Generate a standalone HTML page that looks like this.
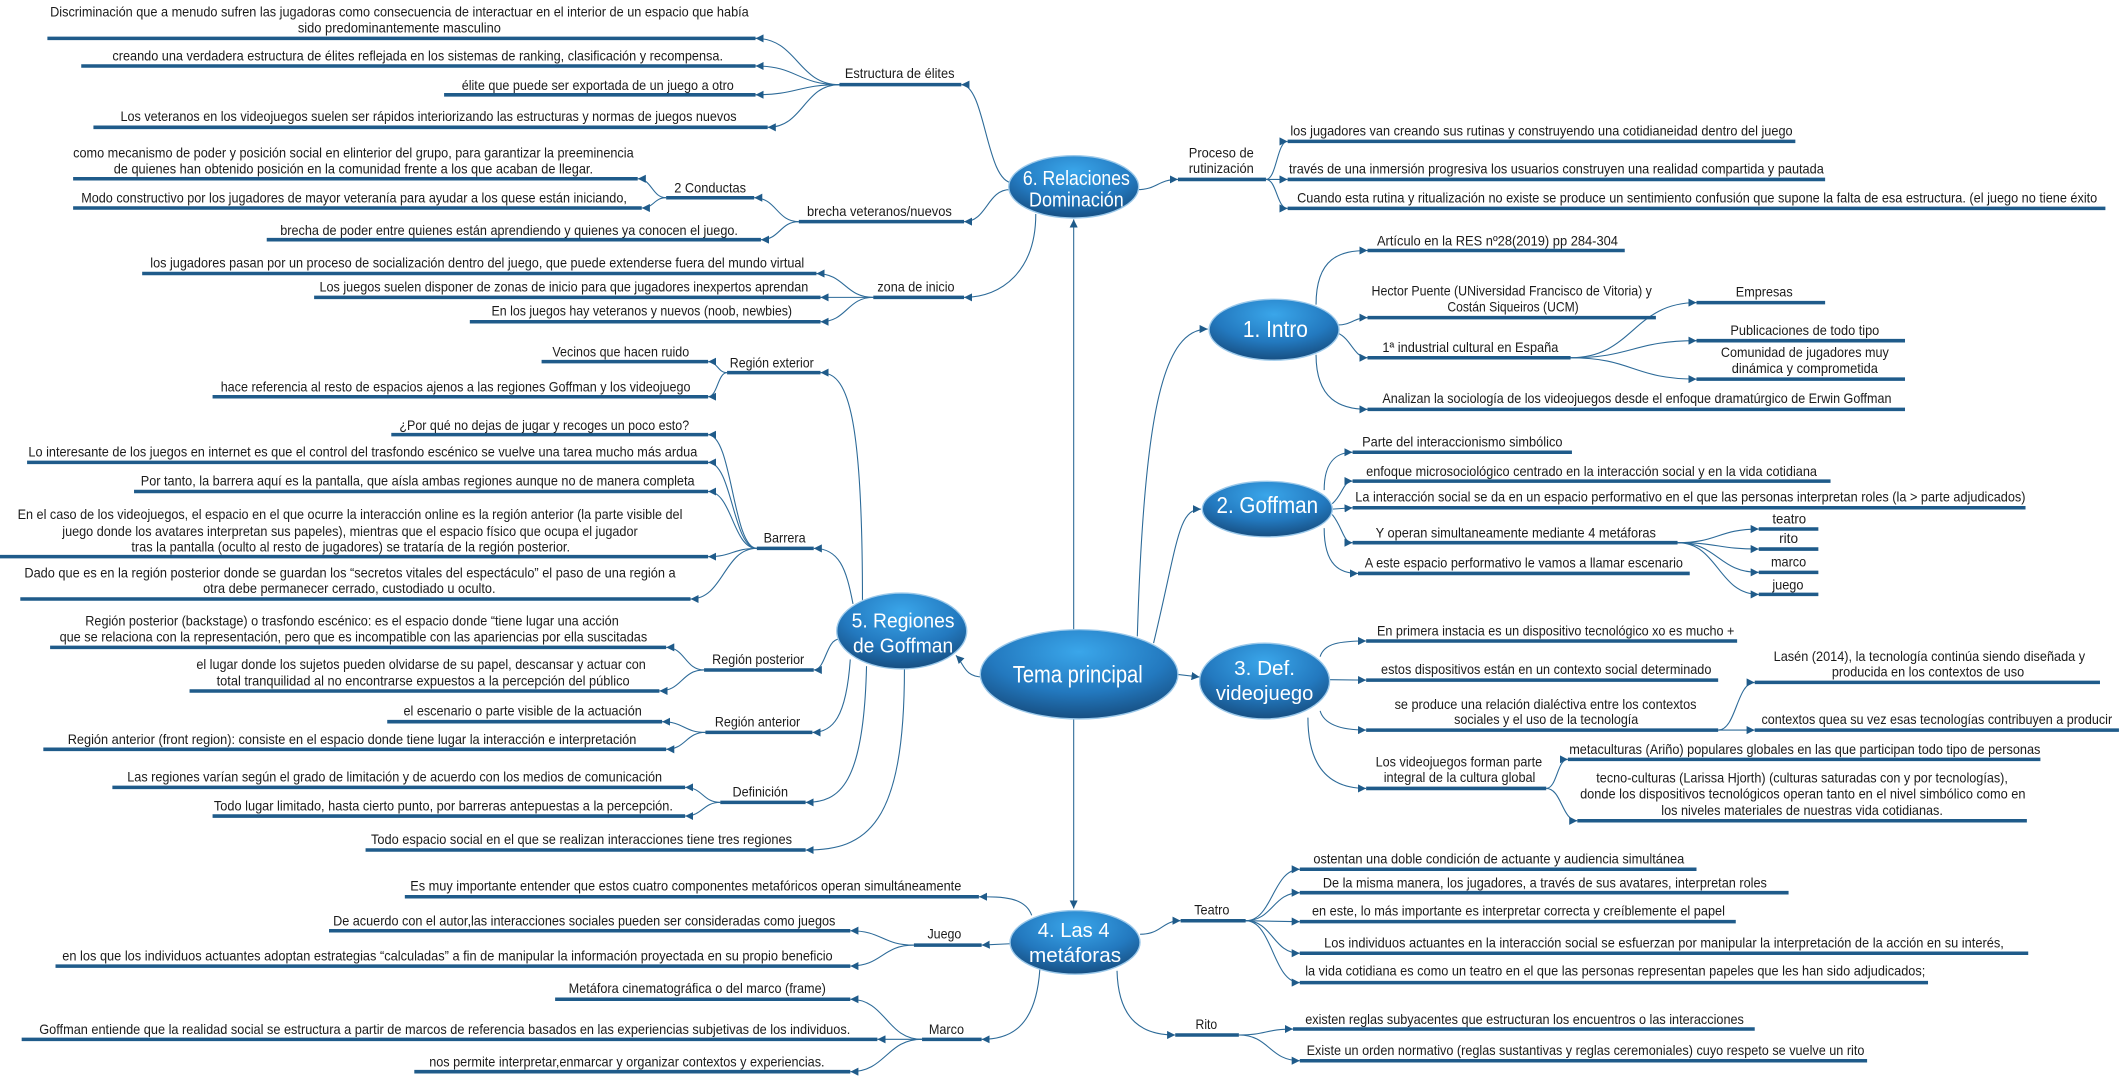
<!DOCTYPE html>
<html><head><meta charset="utf-8"><style>
html,body{margin:0;padding:0;background:#fff;}
svg{display:block;}
text{font-family:"Liberation Sans Narrow","Liberation Sans",sans-serif;font-size:10px;fill:#1b1b1b;}
.n{fill:#fff;font-size:15px;}
.b{stroke:#1f5b8a;stroke-width:2.6;fill:none;}
.c{stroke:#2c6a98;stroke-width:0.8;fill:none;marker-end:url(#ar);}
</style></head><body>
<svg width="2123" height="1077" viewBox="0 0 1568 795.4" xmlns="http://www.w3.org/2000/svg">
<defs>
<marker id="ar" markerUnits="userSpaceOnUse" markerWidth="6" markerHeight="6" viewBox="0 0 6 6" refX="6" refY="3" orient="auto"><path d="M0,0L6,3L0,6z" fill="#1f5b8a"/></marker>
<radialGradient id="g" cx="50%" cy="25%" r="75%"><stop offset="0" stop-color="#3aa6ea"/><stop offset="0.6" stop-color="#2379bf"/><stop offset="1" stop-color="#174f82"/></radialGradient>
</defs>

<path class="c" d="M793 467L793 162"/>
<path class="c" d="M793 528L793 671"/>
<path class="c" d="M840 470C845 300 860 243 892 243"/>
<path class="c" d="M852 475C870 400 870 376 887 376"/>
<path class="c" d="M869 498L886 500"/>
<path class="c" d="M726 500C712 500 712 490 706 484"/>

<path class="c" d="M748 135C728 135 728 62.5 710 62.5"/>
<path class="c" d="M746 140C729 140 729 163.7 712 163.7"/>
<path class="c" d="M765 158C765 200 740 219.6 712 219.6"/>
<path class="c" d="M840 140C855 140 855 132.5 870 132.5"/>
<path class="c" d="M935 132.5C943 132.5 943 104.4 951 104.4"/>
<path class="c" d="M935 132.5L951 132.5"/>
<path class="c" d="M935 132.5C943 132.5 943 153.9 951 153.9"/>
<path class="c" d="M620 62.5C589 62.5 589 28.3 558 28.3"/>
<path class="c" d="M620 62.5C589 62.5 589 48.7 558 48.7"/>
<path class="c" d="M620 62.5C589 62.5 589 70 558 70"/>
<path class="c" d="M620 62.5C593.5 62.5 593.5 94 567 94"/>
<path class="c" d="M590 163.7C573.5 163.7 573.5 146 557 146"/>
<path class="c" d="M590 163.7C576 163.7 576 177 562 177"/>
<path class="c" d="M492 146C481.5 146 481.5 132 471 132"/>
<path class="c" d="M492 146C483 146 483 153.6 474 153.6"/>
<path class="c" d="M645 219.6C624 219.6 624 202 603 202"/>
<path class="c" d="M645 219.6L606 219.6"/>
<path class="c" d="M645 219.6C625.5 219.6 625.5 237.6 606 237.6"/>

<path class="c" d="M637 443C637 300 625 275.2 606 275.2"/>
<path class="c" d="M630 446C625 420 620 405 601 405"/>
<path class="c" d="M620 472C610 472 610 494.8 601 494.8"/>
<path class="c" d="M628 487C625 530 615 540.9 600 540.9"/>
<path class="c" d="M640 492C638 580 620 592.6 595 592.6"/>
<path class="c" d="M668 494C668 610 640 627.8 595 627.8"/>
<path class="c" d="M537 275.2C530 275.2 530 267.1 523 267.1"/>
<path class="c" d="M537 275.2C530 275.2 530 293 523 293"/>
<path class="c" d="M559 405C541 405 541 321 523 321"/>
<path class="c" d="M559 405C541 405 541 341.5 523 341.5"/>
<path class="c" d="M559 405C541 405 541 363 523 363"/>
<path class="c" d="M559 405C541 405 541 411.1 523 411.1"/>
<path class="c" d="M559 405C534.5 405 534.5 442.4 510 442.4"/>
<path class="c" d="M520 494.8C506 494.8 506 478.1 492 478.1"/>
<path class="c" d="M520 494.8C503.5 494.8 503.5 510.3 487 510.3"/>
<path class="c" d="M521 540.9C505 540.9 505 533 489 533"/>
<path class="c" d="M521 540.9C506.5 540.9 506.5 553.4 492 553.4"/>
<path class="c" d="M532 592.6C519 592.6 519 581.5 506 581.5"/>
<path class="c" d="M532 592.6C519 592.6 519 602.7 506 602.7"/>

<path class="c" d="M762 676C757 662.3 740 662.3 723 662.3"/>
<path class="c" d="M746 697L725 698"/>
<path class="c" d="M768 716C765 760 745 767.6 725 767.6"/>
<path class="c" d="M842 690C858 690 858 680 872 680"/>
<path class="c" d="M825 717C826 755 845 764.4 868 764.4"/>
<path class="c" d="M675 698C651.5 698 651.5 687.4 628 687.4"/>
<path class="c" d="M675 698C651.5 698 651.5 713.5 628 713.5"/>
<path class="c" d="M681 767.6C654.5 767.6 654.5 738 628 738"/>
<path class="c" d="M681 767.6L648 767.6"/>
<path class="c" d="M681 767.6C654.5 767.6 654.5 791.5 628 791.5"/>
<path class="c" d="M920 680C940 680 940 642 960 642"/>
<path class="c" d="M920 680C940 680 940 659.3 960 659.3"/>
<path class="c" d="M920 680L960 680.7"/>
<path class="c" d="M920 680C940 680 940 704 960 704"/>
<path class="c" d="M920 680C940 680 940 725.7 960 725.7"/>
<path class="c" d="M915 764.4C935 764.4 935 760 955 760"/>
<path class="c" d="M915 764.4C937.5 764.4 937.5 783.4 960 783.4"/>

<path class="c" d="M972 225C972 190 990 185 1010 185"/>
<path class="c" d="M988 240C998 240 1000 234.6 1010 234.6"/>
<path class="c" d="M988 246C998 250 1000 264.2 1010 264.2"/>
<path class="c" d="M972 262C972 295 990 302.3 1010 302.3"/>
<path class="c" d="M1160 264.2C1206 264.2 1206 223.5 1253 223.5"/>
<path class="c" d="M1160 264.2C1206 264.2 1206 251.6 1253 251.6"/>
<path class="c" d="M1160 264.2C1206 264.2 1206 280 1253 280"/>

<path class="c" d="M978 362C978 338 990 334 999 334"/>
<path class="c" d="M984 372C992 365 992 355.3 999 355.3"/>
<path class="c" d="M984 376L999 375"/>
<path class="c" d="M984 380C992 390 992 400.8 999 400.8"/>
<path class="c" d="M978 390C978 418 990 423.5 1003 423.5"/>
<path class="c" d="M1239 400.8C1269 400.8 1269 390.7 1299 390.7"/>
<path class="c" d="M1239 400.8C1269 400.8 1269 405.5 1299 405.5"/>
<path class="c" d="M1239 400.8C1269 400.8 1269 422.7 1299 422.7"/>
<path class="c" d="M1239 400.8C1269 400.8 1269 439 1299 439"/>

<path class="c" d="M975 485C978 475 990 473.4 1009 473.4"/>
<path class="c" d="M982 502L1009 502.3"/>
<path class="c" d="M975 525C978 535 990 539.2 1009 539.2"/>
<path class="c" d="M966 530C966 575 990 582.3 1009 582.3"/>
<path class="c" d="M1269 539.2C1282.5 539.2 1282.5 504 1296 504"/>
<path class="c" d="M1269 539.2L1296 539.2"/>
<path class="c" d="M1142 582.3C1150 582.3 1150 560.8 1158 560.8"/>
<path class="c" d="M1142 582.3C1153.5 582.3 1153.5 606.2 1165 606.2"/>

<path class="b" d="M35 28.3H558M60 48.7H558M328 70H558M69 94H567M620 62.5H710M54 132H471M54 153.6H474M492 146H557M590 163.7H712M197 177H562M105 202H603M232 219.6H606M645 219.6H712M347 237.6H606M400 267.1H523M537 275.2H606M157 293H523M289 321H523M20 341.5H523M99 363H523M0 411.1H523M559 405H601M15 442.4H510M37 478.1H492M520 494.8H601M140 510.3H487M286 533H489M521 540.9H600M32 553.4H492M83 581.5H506M532 592.6H595M157 602.7H506M270 627.8H595M299 662.3H723M243 687.4H628M675 698H725M41 713.5H628M410 738H628M16 767.6H648M681 767.6H725M306 791.5H628"/>
<path class="b" d="M870 132.5H935M951 104.4H1326M951 132.5H1348M951 153.9H1555M1010 185H1200M1010 234.6H1223M1253 223.5H1348M1010 264.2H1160M1253 251.6H1407M1253 280H1407M1010 302.3H1407M999 334H1161M999 355.3H1352M999 375H1496M999 400.8H1239M1299 390.7H1343M1299 405.5H1343M1299 422.7H1343M1299 439H1343M1003 423.5H1248M1009 473.4H1283M1009 502.3H1269M1296 504H1551M1009 539.2H1269M1296 539.2H1565M1009 582.3H1142M1158 560.8H1507M1165 606.2H1497M960 642H1253M960 659.3H1321M960 680.7H1282M872 680H920M960 704H1498M960 725.7H1424M868 764.4H915M955 760H1296M960 783.4H1379"/>

<g stroke="#9cc9ea" stroke-width="1">
<ellipse cx="797" cy="498" rx="73" ry="33" fill="url(#g)"/>
<ellipse cx="793" cy="138" rx="48" ry="23" fill="url(#g)"/>
<ellipse cx="941" cy="243.5" rx="48" ry="22.5" fill="url(#g)"/>
<ellipse cx="936" cy="376" rx="48" ry="20.5" fill="url(#g)"/>
<ellipse cx="934" cy="503" rx="48" ry="28" fill="url(#g)"/>
<ellipse cx="794" cy="696" rx="48" ry="23.5" fill="url(#g)"/>
<ellipse cx="666" cy="466" rx="48" ry="28" fill="url(#g)"/>
</g>
<text class="n" x="796" y="504" text-anchor="middle" textLength="96" lengthAdjust="spacingAndGlyphs" style="font-size:18px">Tema principal</text>
<text class="n" x="795" y="136.5" text-anchor="middle" textLength="79" lengthAdjust="spacingAndGlyphs">6. Relaciones</text>
<text class="n" x="795" y="152.5" text-anchor="middle" textLength="70" lengthAdjust="spacingAndGlyphs">Dominación</text>
<text class="n" x="942" y="249" text-anchor="middle" textLength="48" lengthAdjust="spacingAndGlyphs" style="font-size:17px">1. Intro</text>
<text class="n" x="936" y="379" text-anchor="middle" textLength="75" lengthAdjust="spacingAndGlyphs" style="font-size:17px">2. Goffman</text>
<text class="n" x="934" y="498.5" text-anchor="middle" textLength="45" lengthAdjust="spacingAndGlyphs">3. Def.</text>
<text class="n" x="934" y="517" text-anchor="middle" textLength="72" lengthAdjust="spacingAndGlyphs">videojuego</text>
<text class="n" x="793" y="692" text-anchor="middle" textLength="53" lengthAdjust="spacingAndGlyphs">4. Las 4</text>
<text class="n" x="794" y="710.5" text-anchor="middle" textLength="68" lengthAdjust="spacingAndGlyphs">metáforas</text>
<text class="n" x="667" y="463.5" text-anchor="middle" textLength="76" lengthAdjust="spacingAndGlyphs">5. Regiones</text>
<text class="n" x="667" y="482" text-anchor="middle" textLength="74" lengthAdjust="spacingAndGlyphs">de Goffman</text>

<g>
<text x="37" y="12.1" textLength="516" lengthAdjust="spacingAndGlyphs">Discriminación que a menudo sufren las jugadoras como consecuencia de interactuar en el interior de un espacio que había</text>
<text x="220" y="23.9" textLength="150" lengthAdjust="spacingAndGlyphs">sido predominantemente masculino</text>
<text x="83" y="44.5" textLength="451" lengthAdjust="spacingAndGlyphs">creando una verdadera estructura de élites reflejada en los sistemas de ranking, clasificación y recompensa.</text>
<text x="341" y="66.3" textLength="201" lengthAdjust="spacingAndGlyphs">élite que puede ser exportada de un juego a otro</text>
<text x="89" y="89.5" textLength="455" lengthAdjust="spacingAndGlyphs">Los veteranos en los videojuegos suelen ser rápidos interiorizando las estructuras y normas de juegos nuevos</text>
<text x="624" y="57.5" textLength="81" lengthAdjust="spacingAndGlyphs">Estructura de élites</text>
<text x="54" y="116.3" textLength="414" lengthAdjust="spacingAndGlyphs">como mecanismo de poder y posición social en elinterior del grupo, para garantizar la preeminencia</text>
<text x="84" y="128.3" textLength="354" lengthAdjust="spacingAndGlyphs">de quienes han obtenido posición en la comunidad frente a los que acaban de llegar.</text>
<text x="60" y="149.5" textLength="403" lengthAdjust="spacingAndGlyphs">Modo constructivo por los jugadores de mayor veteranía para ayudar a los quese están iniciando,</text>
<text x="498" y="142.1" textLength="53" lengthAdjust="spacingAndGlyphs">2 Conductas</text>
<text x="596" y="159.5" textLength="107" lengthAdjust="spacingAndGlyphs">brecha veteranos/nuevos</text>
<text x="207" y="173.5" textLength="338" lengthAdjust="spacingAndGlyphs">brecha de poder entre quienes están aprendiendo y quienes ya conocen el juego.</text>
<text x="111" y="197.5" textLength="483" lengthAdjust="spacingAndGlyphs">los jugadores pasan por un proceso de socialización dentro del juego, que puede extenderse fuera del mundo virtual</text>
<text x="236" y="215.2" textLength="361" lengthAdjust="spacingAndGlyphs">Los juegos suelen disponer de zonas de inicio para que jugadores inexpertos aprendan</text>
<text x="648" y="215.2" textLength="57" lengthAdjust="spacingAndGlyphs">zona de inicio</text>
<text x="363" y="233" textLength="222" lengthAdjust="spacingAndGlyphs">En los juegos hay veteranos y nuevos (noob, newbies)</text>
<text x="408" y="263.2" textLength="101" lengthAdjust="spacingAndGlyphs">Vecinos que hacen ruido</text>
<text x="539" y="271.3" textLength="62" lengthAdjust="spacingAndGlyphs">Región exterior</text>
<text x="163" y="289.1" textLength="347" lengthAdjust="spacingAndGlyphs">hace referencia al resto de espacios ajenos a las regiones Goffman y los videojuego</text>
<text x="295" y="317.4" textLength="214" lengthAdjust="spacingAndGlyphs">¿Por qué no dejas de jugar y recoges un poco esto?</text>
<text x="21" y="337.1" textLength="494" lengthAdjust="spacingAndGlyphs">Lo interesante de los juegos en internet es que el control del trasfondo escénico se vuelve una tarea mucho más ardua</text>
<text x="104" y="358.5" textLength="409" lengthAdjust="spacingAndGlyphs">Por tanto, la barrera aquí es la pantalla, que aísla ambas regiones aunque no de manera completa</text>
<text x="13" y="383.4" textLength="491" lengthAdjust="spacingAndGlyphs">En el caso de los videojuegos, el espacio en el que ocurre la interacción online es la región anterior (la parte visible del</text>
<text x="46" y="395.7" textLength="425" lengthAdjust="spacingAndGlyphs">juego donde los avatares interpretan sus papeles), mientras que el espacio físico que ocupa el jugador</text>
<text x="97" y="407.2" textLength="324" lengthAdjust="spacingAndGlyphs">tras la pantalla (oculto al resto de jugadores) se trataría de la región posterior.</text>
<text x="564" y="400.5" textLength="31" lengthAdjust="spacingAndGlyphs">Barrera</text>
<text x="18" y="426.5" textLength="481" lengthAdjust="spacingAndGlyphs">Dado que es en la región posterior donde se guardan los “secretos vitales del espectáculo”  el paso de una región a</text>
<text x="150" y="438" textLength="216" lengthAdjust="spacingAndGlyphs">otra debe permanecer cerrado, custodiado u oculto.</text>
<text x="63" y="461.9" textLength="394" lengthAdjust="spacingAndGlyphs">Región posterior (backstage) o trasfondo escénico: es el espacio donde “tiene lugar una acción</text>
<text x="44" y="473.7" textLength="434" lengthAdjust="spacingAndGlyphs">que se relaciona con la representación, pero que es incompatible con las apariencias por ella suscitadas</text>
<text x="526" y="490.5" textLength="68" lengthAdjust="spacingAndGlyphs">Región posterior</text>
<text x="145" y="494.1" textLength="332" lengthAdjust="spacingAndGlyphs">el lugar donde los sujetos pueden olvidarse de su papel, descansar y actuar con</text>
<text x="160" y="506.2" textLength="305" lengthAdjust="spacingAndGlyphs">total tranquilidad al no encontrarse expuestos a la percepción del público</text>
<text x="298" y="528.4" textLength="176" lengthAdjust="spacingAndGlyphs">el escenario o parte visible de la actuación</text>
<text x="528" y="536.5" textLength="63" lengthAdjust="spacingAndGlyphs">Región anterior</text>
<text x="50" y="549.3" textLength="420" lengthAdjust="spacingAndGlyphs">Región anterior (front region): consiste en el espacio donde tiene lugar la interacción e interpretación</text>
<text x="94" y="577.1" textLength="395" lengthAdjust="spacingAndGlyphs">Las regiones varían según el grado de limitación y de acuerdo con los medios de comunicación</text>
<text x="541" y="588.2" textLength="41" lengthAdjust="spacingAndGlyphs">Definición</text>
<text x="158" y="598.5" textLength="339" lengthAdjust="spacingAndGlyphs">Todo lugar limitado, hasta cierto punto, por barreras antepuestas a la percepción.</text>
<text x="274" y="623.5" textLength="311" lengthAdjust="spacingAndGlyphs">Todo espacio social en el que se realizan interacciones  tiene tres regiones</text>
<text x="303" y="657.5" textLength="407" lengthAdjust="spacingAndGlyphs">Es muy importante entender que estos cuatro componentes metafóricos operan simultáneamente</text>
<text x="246" y="683.5" textLength="371" lengthAdjust="spacingAndGlyphs">De acuerdo con el autor,las interacciones sociales pueden ser consideradas como juegos</text>
<text x="685" y="693.3" textLength="25" lengthAdjust="spacingAndGlyphs">Juego</text>
<text x="46" y="709.5" textLength="569" lengthAdjust="spacingAndGlyphs">en los que los individuos actuantes adoptan estrategias “calculadas” a fin de manipular la información proyectada en su propio beneficio</text>
<text x="420" y="733.5" textLength="190" lengthAdjust="spacingAndGlyphs">Metáfora cinematográfica o del marco (frame)</text>
<text x="29" y="763.5" textLength="599" lengthAdjust="spacingAndGlyphs">Goffman entiende que la realidad social se estructura a partir de marcos de referencia basados en las experiencias subjetivas de los individuos.</text>
<text x="686" y="763.5" textLength="26" lengthAdjust="spacingAndGlyphs">Marco</text>
<text x="317" y="787.5" textLength="292" lengthAdjust="spacingAndGlyphs">nos permite interpretar,enmarcar y organizar contextos y experiencias.</text>

<text x="878" y="116.3" textLength="48" lengthAdjust="spacingAndGlyphs">Proceso de</text>
<text x="878" y="127.8" textLength="48" lengthAdjust="spacingAndGlyphs">rutinización</text>
<text x="953" y="100" textLength="371" lengthAdjust="spacingAndGlyphs">los jugadores van creando sus rutinas y construyendo una cotidianeidad dentro del juego</text>
<text x="952" y="128.3" textLength="395" lengthAdjust="spacingAndGlyphs">través de una inmersión progresiva los usuarios construyen una realidad compartida y pautada</text>
<text x="958" y="149.5" textLength="591" lengthAdjust="spacingAndGlyphs">Cuando esta rutina y ritualización no existe se produce un sentimiento confusión que supone la falta de esa estructura. (el juego no tiene éxito</text>
<text x="1017" y="181.3" textLength="178" lengthAdjust="spacingAndGlyphs">Artículo en la RES nº28(2019) pp 284-304</text>
<text x="1013" y="218.2" textLength="207" lengthAdjust="spacingAndGlyphs">Hector Puente (UNiversidad Francisco de Vitoria) y</text>
<text x="1069" y="230" textLength="97" lengthAdjust="spacingAndGlyphs">Costán Siqueiros (UCM)</text>
<text x="1282" y="218.9" textLength="42" lengthAdjust="spacingAndGlyphs">Empresas</text>
<text x="1021" y="260" textLength="130" lengthAdjust="spacingAndGlyphs">1ª industrial cultural en España</text>
<text x="1278" y="247.5" textLength="110" lengthAdjust="spacingAndGlyphs">Publicaciones de todo tipo</text>
<text x="1271" y="263.5" textLength="124" lengthAdjust="spacingAndGlyphs">Comunidad de jugadores muy</text>
<text x="1279" y="275.5" textLength="108" lengthAdjust="spacingAndGlyphs">dinámica y comprometida</text>
<text x="1021" y="297.5" textLength="376" lengthAdjust="spacingAndGlyphs">Analizan la sociología de los videojuegos desde el enfoque dramatúrgico de Erwin Goffman</text>
<text x="1006" y="329.7" textLength="148" lengthAdjust="spacingAndGlyphs">Parte del interaccionismo simbólico</text>
<text x="1009" y="351.4" textLength="333" lengthAdjust="spacingAndGlyphs">enfoque microsociológico centrado en la interacción social y en la vida cotidiana</text>
<text x="1001" y="370.3" textLength="495" lengthAdjust="spacingAndGlyphs">La interacción social se da en un espacio performativo en el que las personas interpretan roles (la &gt; parte adjudicados)</text>
<text x="1016" y="396.9" textLength="207" lengthAdjust="spacingAndGlyphs">Y operan simultaneamente mediante 4 metáforas</text>
<text x="1309" y="386.8" textLength="25" lengthAdjust="spacingAndGlyphs">teatro</text>
<text x="1314" y="401.1" textLength="14" lengthAdjust="spacingAndGlyphs">rito</text>
<text x="1308" y="418.4" textLength="26" lengthAdjust="spacingAndGlyphs">marco</text>
<text x="1309" y="435.5" textLength="23" lengthAdjust="spacingAndGlyphs">juego</text>
<text x="1008" y="419.1" textLength="235" lengthAdjust="spacingAndGlyphs">A este espacio performativo le vamos a llamar escenario</text>
<text x="1017" y="469.5" textLength="264" lengthAdjust="spacingAndGlyphs">En primera instacia es un dispositivo tecnológico xo es mucho +</text>
<text x="1020" y="497.9" textLength="244" lengthAdjust="spacingAndGlyphs">estos dispositivos están en un contexto social determinado</text>
<text x="1310" y="488" textLength="230" lengthAdjust="spacingAndGlyphs">Lasén (2014), la tecnología continúa siendo diseñada y</text>
<text x="1353" y="499.5" textLength="142" lengthAdjust="spacingAndGlyphs">producida en los contextos de uso</text>
<text x="1030" y="523.5" textLength="223" lengthAdjust="spacingAndGlyphs">se produce una relación dialéctiva entre los contextos</text>
<text x="1074" y="534.8" textLength="136" lengthAdjust="spacingAndGlyphs">sociales y el uso de la tecnología</text>
<text x="1301" y="534.8" textLength="259" lengthAdjust="spacingAndGlyphs">contextos quea su vez esas tecnologías contribuyen a producir</text>
<text x="1016" y="566.1" textLength="123" lengthAdjust="spacingAndGlyphs">Los videojuegos forman parte</text>
<text x="1022" y="577.6" textLength="112" lengthAdjust="spacingAndGlyphs">integral de la cultura global</text>
<text x="1159" y="556.7" textLength="348" lengthAdjust="spacingAndGlyphs">metaculturas (Ariño) populares globales en las que participan todo tipo de personas</text>
<text x="1179" y="577.9" textLength="304" lengthAdjust="spacingAndGlyphs">tecno-culturas (Larissa Hjorth) (culturas saturadas con y por tecnologías),</text>
<text x="1167" y="589.9" textLength="329" lengthAdjust="spacingAndGlyphs">donde los dispositivos tecnológicos  operan tanto en el nivel simbólico como en</text>
<text x="1227" y="601.8" textLength="208" lengthAdjust="spacingAndGlyphs">los niveles materiales de nuestras vida cotidianas.</text>
<text x="970" y="637.9" textLength="274" lengthAdjust="spacingAndGlyphs">ostentan una doble condición de actuante y audiencia simultánea</text>
<text x="977" y="655.4" textLength="328" lengthAdjust="spacingAndGlyphs">De la misma manera, los jugadores, a través de sus avatares, interpretan roles</text>
<text x="882" y="675.5" textLength="26" lengthAdjust="spacingAndGlyphs">Teatro</text>
<text x="969" y="676.3" textLength="305" lengthAdjust="spacingAndGlyphs">en este, lo más importante es interpretar correcta y creíblemente el papel</text>
<text x="978" y="699.7" textLength="502" lengthAdjust="spacingAndGlyphs">Los individuos actuantes en la interacción social se esfuerzan por manipular la  interpretación de la acción en su interés,</text>
<text x="964" y="720.5" textLength="458" lengthAdjust="spacingAndGlyphs">la vida cotidiana es como un teatro en el que las personas representan papeles que les han sido adjudicados;</text>
<text x="883" y="760" textLength="16" lengthAdjust="spacingAndGlyphs">Rito</text>
<text x="964" y="756.1" textLength="324" lengthAdjust="spacingAndGlyphs">existen reglas subyacentes que estructuran los encuentros o las interacciones</text>
<text x="965" y="779" textLength="412" lengthAdjust="spacingAndGlyphs">Existe un orden normativo (reglas sustantivas y reglas ceremoniales) cuyo respeto se vuelve un rito</text>
</g>
</svg>
</body></html>
